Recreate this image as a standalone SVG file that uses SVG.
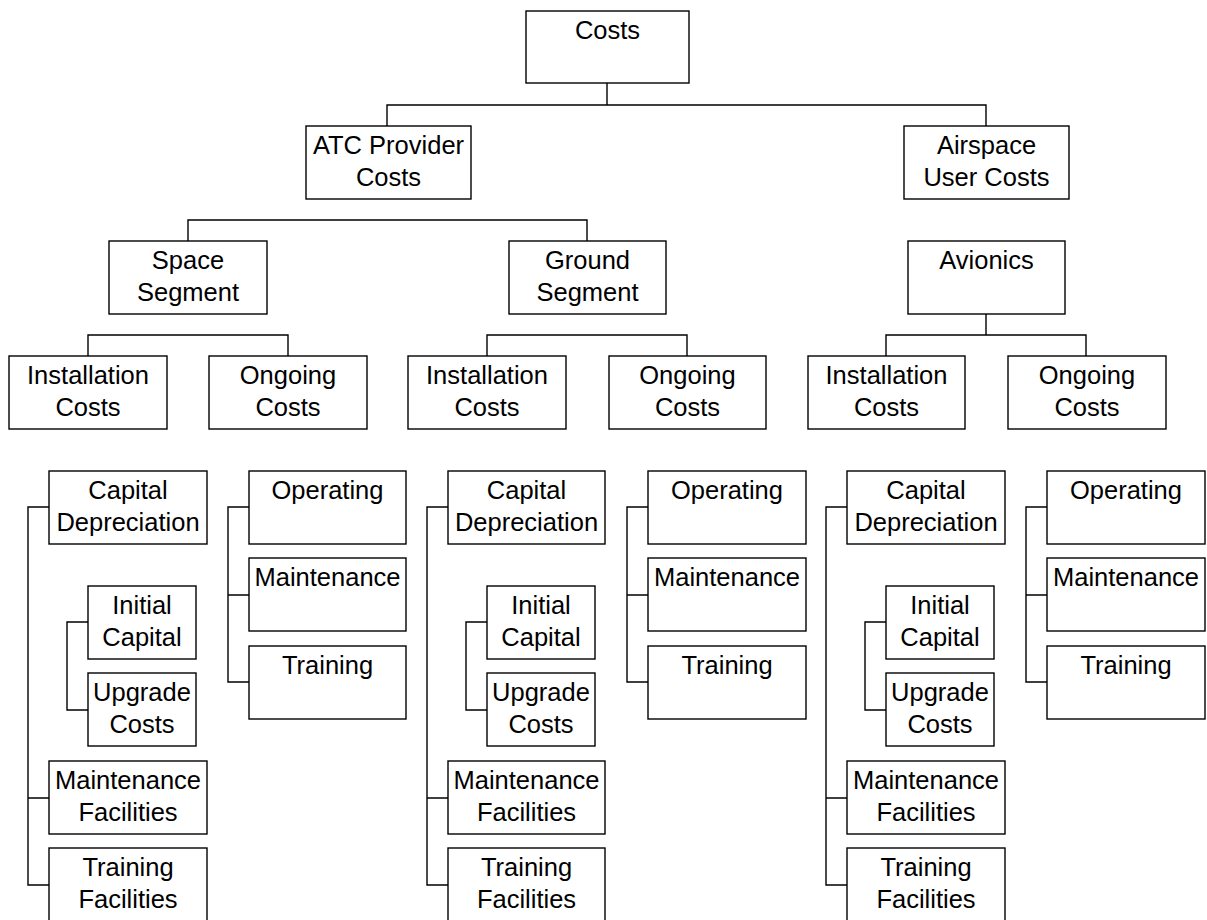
<svg xmlns="http://www.w3.org/2000/svg" width="1207" height="920" viewBox="0 0 1207 920">
  <style>
    .box { fill: #fff; stroke: #000; stroke-width: 1.4; }
    .link { fill: none; stroke: #000; stroke-width: 1.4; }
    text { font-family: "Liberation Sans", Arial, sans-serif; font-size: 25.5px; fill: #000; text-anchor: middle; }
  </style>
  <rect width="1207" height="920" fill="#fff"/>

  <!-- connectors -->
  <g id="connectors" class="link">
    <path d="M607 83 V105 M387 126 V105 H986 V126"/>
    <path d="M188 241 V220 H587 V241"/>
    <path d="M88 356 V335 H288 V356"/>
    <path d="M487 356 V335 H687 V356"/>
    <path d="M986 314 V335 M886 356 V335 H1086 V356"/>
    <!-- installation cost brackets -->
    <path d="M49 507 H28 V885 H49 M28 798 H49"/>
    <path d="M448 507 H427 V885 H448 M427 798 H448"/>
    <path d="M847 507 H826 V885 H847 M826 798 H847"/>
    <!-- capital sub-brackets -->
    <path d="M88 622 H67 V710 H88"/>
    <path d="M487 622 H466 V710 H487"/>
    <path d="M886 622 H865 V710 H886"/>
    <!-- ongoing cost brackets -->
    <path d="M249 507 H228 V682 H249 M228 595 H249"/>
    <path d="M648 507 H627 V682 H648 M627 595 H648"/>
    <path d="M1047 507 H1026 V682 H1047 M1026 595 H1047"/>
  </g>

  <!-- top levels -->
  <g id="costs"><rect class="box" x="526" y="11" width="163" height="72"/><text x="607.5" y="39">Costs</text></g>
  <g id="atc-provider"><rect class="box" x="306" y="126" width="165" height="73"/><text x="388.5" y="154">ATC Provider</text><text x="388.5" y="185.5">Costs</text></g>
  <g id="airspace-user"><rect class="box" x="904" y="126" width="165" height="73"/><text x="986.5" y="154">Airspace</text><text x="986.5" y="185.5">User Costs</text></g>
  <g id="space-segment"><rect class="box" x="109" y="241" width="158" height="73"/><text x="188" y="269">Space</text><text x="188" y="300.5">Segment</text></g>
  <g id="ground-segment"><rect class="box" x="509" y="241" width="157" height="73"/><text x="587.5" y="269">Ground</text><text x="587.5" y="300.5">Segment</text></g>
  <g id="avionics"><rect class="box" x="908" y="241" width="157" height="73"/><text x="986.5" y="269">Avionics</text></g>

  <g id="space-installation"><rect class="box" x="9" y="356" width="158" height="73"/><text x="88" y="384">Installation</text><text x="88" y="415.5">Costs</text></g>
  <g id="space-ongoing"><rect class="box" x="209" y="356" width="158" height="73"/><text x="288" y="384">Ongoing</text><text x="288" y="415.5">Costs</text></g>
  <g id="ground-installation"><rect class="box" x="408" y="356" width="158" height="73"/><text x="487" y="384">Installation</text><text x="487" y="415.5">Costs</text></g>
  <g id="ground-ongoing"><rect class="box" x="609" y="356" width="157" height="73"/><text x="687.5" y="384">Ongoing</text><text x="687.5" y="415.5">Costs</text></g>
  <g id="avionics-installation"><rect class="box" x="808" y="356" width="157" height="73"/><text x="886.5" y="384">Installation</text><text x="886.5" y="415.5">Costs</text></g>
  <g id="avionics-ongoing"><rect class="box" x="1008" y="356" width="158" height="73"/><text x="1087" y="384">Ongoing</text><text x="1087" y="415.5">Costs</text></g>

  <!-- space segment detail -->
  <g id="space-capital-depreciation"><rect class="box" x="49" y="471" width="158" height="73"/><text x="128" y="499">Capital</text><text x="128" y="530.5">Depreciation</text></g>
  <g id="space-initial-capital"><rect class="box" x="88" y="586" width="108" height="73"/><text x="142" y="614">Initial</text><text x="142" y="645.5">Capital</text></g>
  <g id="space-upgrade-costs"><rect class="box" x="88" y="673" width="108" height="73"/><text x="142" y="701">Upgrade</text><text x="142" y="732.5">Costs</text></g>
  <g id="space-maintenance-facilities"><rect class="box" x="49" y="761" width="158" height="73"/><text x="128" y="789">Maintenance</text><text x="128" y="820.5">Facilities</text></g>
  <g id="space-training-facilities"><rect class="box" x="49" y="848" width="158" height="74"/><text x="128" y="876">Training</text><text x="128" y="907.5">Facilities</text></g>
  <g id="space-operating"><rect class="box" x="249" y="471" width="157" height="73"/><text x="327.5" y="499">Operating</text></g>
  <g id="space-maintenance"><rect class="box" x="249" y="558" width="157" height="73"/><text x="327.5" y="586">Maintenance</text></g>
  <g id="space-training"><rect class="box" x="249" y="646" width="157" height="73"/><text x="327.5" y="674">Training</text></g>

  <!-- ground segment detail -->
  <g id="ground-capital-depreciation"><rect class="box" x="448" y="471" width="157" height="73"/><text x="526.5" y="499">Capital</text><text x="526.5" y="530.5">Depreciation</text></g>
  <g id="ground-initial-capital"><rect class="box" x="487" y="586" width="108" height="73"/><text x="541" y="614">Initial</text><text x="541" y="645.5">Capital</text></g>
  <g id="ground-upgrade-costs"><rect class="box" x="487" y="673" width="108" height="73"/><text x="541" y="701">Upgrade</text><text x="541" y="732.5">Costs</text></g>
  <g id="ground-maintenance-facilities"><rect class="box" x="448" y="761" width="157" height="73"/><text x="526.5" y="789">Maintenance</text><text x="526.5" y="820.5">Facilities</text></g>
  <g id="ground-training-facilities"><rect class="box" x="448" y="848" width="157" height="74"/><text x="526.5" y="876">Training</text><text x="526.5" y="907.5">Facilities</text></g>
  <g id="ground-operating"><rect class="box" x="648" y="471" width="158" height="73"/><text x="727" y="499">Operating</text></g>
  <g id="ground-maintenance"><rect class="box" x="648" y="558" width="158" height="73"/><text x="727" y="586">Maintenance</text></g>
  <g id="ground-training"><rect class="box" x="648" y="646" width="158" height="73"/><text x="727" y="674">Training</text></g>

  <!-- avionics detail -->
  <g id="avionics-capital-depreciation"><rect class="box" x="847" y="471" width="158" height="73"/><text x="926" y="499">Capital</text><text x="926" y="530.5">Depreciation</text></g>
  <g id="avionics-initial-capital"><rect class="box" x="886" y="586" width="108" height="73"/><text x="940" y="614">Initial</text><text x="940" y="645.5">Capital</text></g>
  <g id="avionics-upgrade-costs"><rect class="box" x="886" y="673" width="108" height="73"/><text x="940" y="701">Upgrade</text><text x="940" y="732.5">Costs</text></g>
  <g id="avionics-maintenance-facilities"><rect class="box" x="847" y="761" width="158" height="73"/><text x="926" y="789">Maintenance</text><text x="926" y="820.5">Facilities</text></g>
  <g id="avionics-training-facilities"><rect class="box" x="847" y="848" width="158" height="74"/><text x="926" y="876">Training</text><text x="926" y="907.5">Facilities</text></g>
  <g id="avionics-operating"><rect class="box" x="1047" y="471" width="158" height="73"/><text x="1126" y="499">Operating</text></g>
  <g id="avionics-maintenance"><rect class="box" x="1047" y="558" width="158" height="73"/><text x="1126" y="586">Maintenance</text></g>
  <g id="avionics-training"><rect class="box" x="1047" y="646" width="158" height="73"/><text x="1126" y="674">Training</text></g>
</svg>
